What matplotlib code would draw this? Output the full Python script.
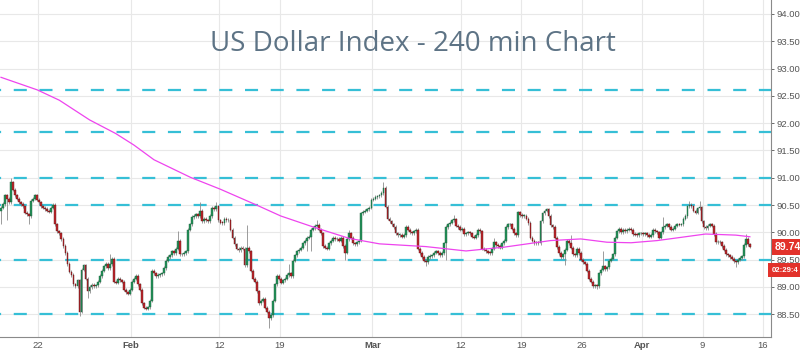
import numpy as np
import matplotlib
matplotlib.use("Agg")
import matplotlib.pyplot as plt

# 240-min closes (first candle ~ Jan 18, last ~ Apr 13)
closes = [
    90.45, 90.52, 90.68, 90.62, 90.55, 90.92, 90.78, 90.68, 90.62, 90.55,
    90.52, 90.48, 90.36, 90.33, 90.30, 90.58, 90.62, 90.68, 90.60, 90.55,
    90.48, 90.45, 90.43, 90.40, 90.38, 90.45, 90.50, 90.15, 90.02, 89.98,
    89.88, 89.75, 89.62, 89.42, 89.28, 89.22, 89.05, 89.02, 89.12, 88.55,
    89.32, 89.40, 89.15, 88.92, 89.00, 89.04, 89.02, 89.03, 89.10, 89.20,
    89.30, 89.38, 89.42, 89.35, 89.42, 89.52, 89.10, 89.08, 89.15, 89.12,
    89.10, 88.95, 88.90, 88.88, 88.95, 89.10, 89.15, 89.20, 89.05, 88.95,
    88.70, 88.62, 88.60, 88.63, 88.75, 89.30, 89.25, 89.20, 89.22, 89.23,
    89.25, 89.35, 89.48, 89.55, 89.58, 89.65, 89.62, 89.70, 89.85, 89.60,
    89.60, 89.62, 89.65, 90.05, 90.15, 90.28, 90.30, 90.33, 90.30, 90.40,
    90.20, 90.25, 90.22, 90.20, 90.30, 90.45, 90.43, 90.48, 90.22, 90.18,
    90.17, 90.25, 90.22, 90.23, 90.05, 89.90, 89.78, 89.70, 89.67, 89.72,
    89.70, 89.40, 89.72, 89.65, 89.30, 89.15, 89.10, 88.92, 88.70, 88.75,
    88.78, 88.62, 88.55, 88.43, 88.48, 88.75, 89.05, 89.20, 89.15, 89.08,
    89.12, 89.15, 89.22, 89.25, 89.20, 89.48, 89.58, 89.65, 89.68, 89.72,
    89.80, 89.85, 89.90, 89.92, 90.05, 90.08, 90.12, 90.14, 90.05, 89.98,
    89.75, 89.72, 89.70, 89.80, 89.85, 89.90, 89.87, 89.88, 89.85, 89.90,
    89.75, 89.63, 89.88, 89.98, 89.90, 89.80, 89.78, 89.82, 89.85, 90.35,
    90.38, 90.40, 90.42, 90.45, 90.60, 90.62, 90.65, 90.66, 90.68, 90.72,
    90.82, 90.47, 90.25, 90.20, 90.15, 90.10, 89.98, 89.95, 89.96, 89.92,
    89.95, 90.10, 90.05, 90.00, 89.98, 90.02, 90.05, 89.70, 89.62, 89.55,
    89.48, 89.45, 89.55, 89.57, 89.58, 89.63, 89.65, 89.62, 89.58, 89.62,
    89.80, 90.10, 90.15, 90.18, 90.22, 90.24, 90.12, 90.10, 90.05, 90.06,
    89.97, 89.98, 90.00, 89.98, 89.92, 89.90, 89.95, 90.05, 90.02, 89.70,
    89.68, 89.65, 89.63, 89.62, 89.70, 89.82, 89.77, 89.75, 89.72, 89.80,
    89.85, 90.10, 90.15, 90.15, 90.07, 89.98, 89.95, 90.37, 90.32, 90.30,
    90.30, 90.25, 90.17, 89.90, 89.85, 89.80, 89.82, 89.80, 90.20, 90.35,
    90.40, 90.42, 90.30, 90.13, 90.10, 89.90, 89.73, 89.62, 89.55, 89.60,
    89.68, 89.85, 89.80, 89.72, 89.60, 89.58, 89.70, 89.62, 89.50, 89.45,
    89.43, 89.30, 89.15, 89.10, 89.02, 89.03, 89.02, 89.25, 89.32, 89.38,
    89.33, 89.36, 89.48, 89.52, 89.60, 89.90, 90.02, 90.07, 90.00, 90.05,
    90.02, 90.05, 90.07, 90.05, 89.97, 89.96, 89.95, 89.98, 89.98, 89.97,
    89.98, 89.95, 89.92, 89.95, 90.05, 90.02, 90.00, 89.90, 90.00, 90.10,
    90.12, 90.15, 90.10, 90.05, 90.07, 90.12, 90.15, 90.14, 90.15, 90.25,
    90.30, 90.48, 90.50, 90.48, 90.40, 90.36, 90.44, 90.46, 90.20, 90.10,
    90.08, 90.12, 90.15, 90.12, 89.97, 89.82, 89.83, 89.82, 89.75, 89.68,
    89.60, 89.58, 89.55, 89.52, 89.47, 89.45, 89.50, 89.53, 89.56, 89.77,
    89.88, 89.78, 89.74,
]
first_open = 90.40

# notable wick extremes (candle index -> price)
highs = {5: 91.00, 54: 89.60, 88: 90.03, 99: 90.55, 107: 90.55, 122: 90.13,
         143: 89.42, 157: 90.22, 173: 90.05, 190: 90.92, 225: 90.32,
         245: 89.90, 283: 89.95, 299: 89.65, 329: 90.28, 342: 90.57,
         347: 90.57, 370: 89.97}
lows = {0: 90.16, 3: 90.22, 14: 90.15, 39: 88.46, 43: 88.80, 72: 88.57,
        133: 88.25, 152: 89.65, 154: 89.65, 171: 89.50, 211: 89.38,
        221: 89.50, 280: 89.40, 296: 88.97, 365: 89.36}

# moving average, read at a few points (candle index, price)
ma_idx = [0, 18, 29, 44, 57, 66, 76, 94, 109, 127, 139, 155, 173, 188, 211,
          231, 250, 273, 288, 301, 313, 326, 340, 350, 365, 372]
ma_val = [92.84, 92.61, 92.42, 92.06, 91.81, 91.60, 91.33, 91.01, 90.79,
          90.50, 90.30, 90.10, 89.89, 89.79, 89.74, 89.66, 89.73, 89.85,
          89.88, 89.82, 89.81, 89.85, 89.92, 89.97, 89.95, 89.92]

levels = [92.60, 91.83, 91.00, 90.50, 89.50, 88.50]

tick_pos = [18.5, 64.5, 108.5, 138.5, 184.5, 228.5, 258.5, 288.5, 318.5, 348.5, 378.5]
tick_lbl = ['22', 'Feb', '12', '19', 'Mar', '12', '19', '26', 'Apr', '9', '16']
y_ticks = [88.5, 89.0, 89.5, 90.0, 90.5, 91.0, 91.5, 92.0, 92.5, 93.0, 93.5, 94.0]

last_price = '89.74'
countdown = '02:29:4'

plt.rcParams['font.family'] = ['Liberation Sans', 'DejaVu Sans']
plt.rcParams['lines.scale_dashes'] = False

fig = plt.figure(figsize=(8, 3.52), dpi=100)
ax = fig.add_axes([0, 15 / 352, 771 / 800, 337 / 352])

c = np.array(closes)
o = np.concatenate([[first_open], c[:-1]])
x = np.arange(len(c))
hi = np.maximum(o, c) + 0.03
lo = np.minimum(o, c) - 0.03
for k, v in highs.items():
    hi[k] = v
for k, v in lows.items():
    lo[k] = v

up = c >= o
green, red = '#23935a', '#c0262c'
ax.vlines(x, lo, hi, color='#8c8c8c', lw=0.6, zorder=3)
body = np.maximum(np.abs(c - o), 0.012)
base = np.minimum(o, c)
ax.bar(x[up], body[up], bottom=base[up], width=0.9, color=green,
       edgecolor='#1d5e3c', lw=0.3, zorder=4)
ax.bar(x[~up], body[~up], bottom=base[~up], width=0.9, color=red,
       edgecolor='#5a1414', lw=0.3, zorder=4)

ax.plot(ma_idx, ma_val, color='#ee44ee', lw=0.9, zorder=5)

for lv in levels:
    ax.axhline(lv, color='#36bfd6', lw=1.6, linestyle=(8.6, (9.4, 9.1)), zorder=2)

ax.set_xlim(-0.5, 382.5)
ax.set_ylim(88.084, 94.256)
ax.set_yticks(y_ticks)
ax.set_yticklabels(['%.2f' % v for v in y_ticks])
ax.yaxis.tick_right()
ax.set_xticks(tick_pos)
ax.set_xticklabels(tick_lbl)
for t in ax.get_xticklabels():
    if t.get_text() in ('Feb', 'Mar', 'Apr'):
        t.set_fontweight('bold')
ax.tick_params(axis='both', labelsize=6.8, colors='#555555', width=0.6)
ax.tick_params(axis='x', length=0, pad=3)
ax.tick_params(axis='y', length=2.5, pad=1.5)
ax.grid(True, color='#e8e8e8', lw=0.8, zorder=0)
ax.set_axisbelow(True)
for s in ['top', 'left']:
    ax.spines[s].set_visible(False)
for s in ['right', 'bottom']:
    ax.spines[s].set_color('#8a8a8a')
    ax.spines[s].set_linewidth(0.8)

ax.text(0.535, 0.87, 'US Dollar Index - 240 min Chart', transform=ax.transAxes,
        ha='center', va='center', fontsize=20, color='#5d7385',
        family=['Open Sans', 'DejaVu Sans'])

fig.text(775 / 800, 1 - 247 / 352, last_price, ha='left', va='center', fontsize=7.5,
         fontweight='bold', color='white',
         bbox=dict(boxstyle='square,pad=0.3', fc='#e2322b', ec='none'))
fig.text(772 / 800, 1 - 270 / 352, countdown, ha='left', va='center', fontsize=5.6,
         fontweight='bold', color='white',
         bbox=dict(boxstyle='square,pad=0.5', fc='#e2322b', ec='none'))

fig.savefig('out.png', dpi=100)
